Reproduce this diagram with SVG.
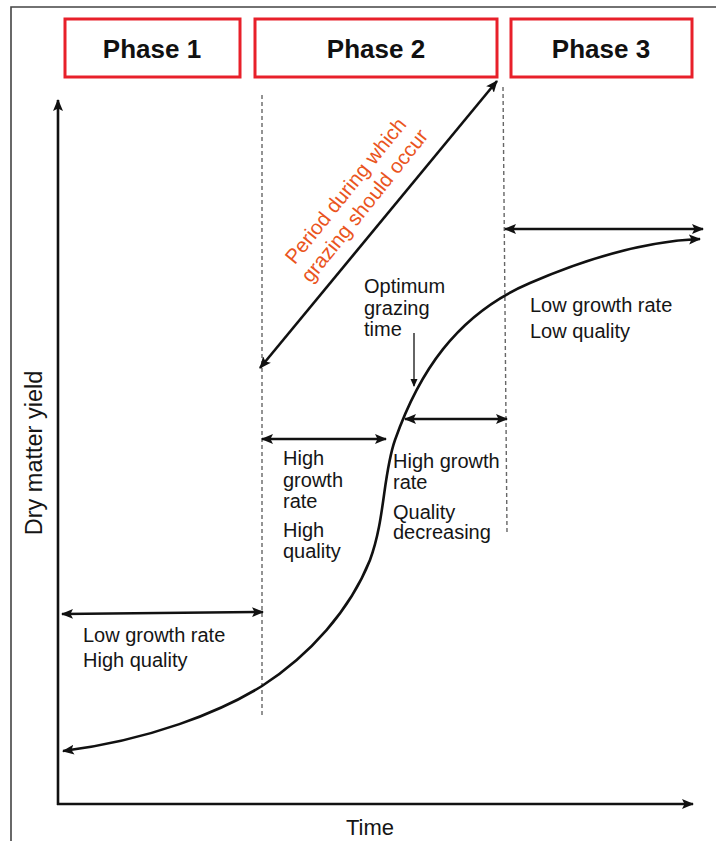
<svg xmlns="http://www.w3.org/2000/svg" width="716" height="841" viewBox="0 0 716 841">
<style>
.lbl{font-family:"Liberation Sans",Arial,sans-serif;font-size:20px;fill:#151515}
.ph{font-family:"Liberation Sans",Arial,sans-serif;font-size:26px;font-weight:bold;fill:#111;text-anchor:middle}
.box{fill:#fff;stroke:#e8202a;stroke-width:3}
.ln{fill:none;stroke:#111;stroke-width:2.6}
.dash{fill:none;stroke:#666;stroke-width:1.4;stroke-dasharray:4 3}
.org{font-family:"Liberation Sans",Arial,sans-serif;font-size:20.5px;fill:#ea5420;text-anchor:middle}
</style>
<defs>
<marker id="ah" markerUnits="userSpaceOnUse" markerWidth="14" markerHeight="12" refX="11" refY="5" orient="auto-start-reverse" viewBox="0 0 14 10">
<path d="M0,0 L12,5 L0,10 L2.5,5 z" fill="#111"/>
</marker>
<marker id="ahs" markerUnits="userSpaceOnUse" markerWidth="9" markerHeight="8" refX="7" refY="3.5" orient="auto" viewBox="0 0 9 7">
<path d="M0,0 L8,3.5 L0,7 z" fill="#111"/>
</marker>
</defs>
<rect width="716" height="841" fill="#fff"/>
<g id="frame">
<path d="M11,841 L11,7 L716,7" fill="none" stroke="#444" stroke-width="1.6"/>
</g>
<g id="phase1"><rect class="box" x="65" y="19" width="175" height="58"/><text class="ph" x="152" y="58">Phase 1</text></g>
<g id="phase2"><rect class="box" x="255" y="19" width="242" height="58"/><text class="ph" x="376" y="58">Phase 2</text></g>
<g id="phase3"><rect class="box" x="511" y="19" width="181" height="58"/><text class="ph" x="601" y="58">Phase 3</text></g>
<g id="axes">
<line class="ln" x1="58" y1="805" x2="58" y2="100" marker-end="url(#ah)"/>
<line class="ln" x1="57" y1="804" x2="693" y2="804" marker-end="url(#ah)"/>
<text class="lbl" font-size="23.5" text-anchor="middle" transform="translate(42,453) rotate(-90)" style="font-size:23.5px">Dry matter yield</text>
<text class="lbl" text-anchor="middle" x="370" y="835" style="font-size:22px">Time</text>
</g>
<g id="dividers">
<line class="dash" x1="262" y1="95" x2="262" y2="717"/>
<line class="dash" x1="503" y1="87" x2="507" y2="532"/>
</g>
<g id="curve">
<path class="ln" d="M700,239 C650,241 590,257 530,283 C455,315 418,375 395,440 C383,474 385,520 370,560 C350,610 310,655 262,686 C220,712 150,740 63,751" marker-start="url(#ah)" marker-end="url(#ah)"/>
</g>
<g id="connectors">
<line class="ln" x1="62" y1="614" x2="263" y2="612" marker-start="url(#ah)" marker-end="url(#ah)"/>
<line class="ln" x1="262" y1="439" x2="386" y2="439" marker-start="url(#ah)" marker-end="url(#ah)"/>
<line class="ln" x1="405" y1="419" x2="507" y2="419" marker-start="url(#ah)" marker-end="url(#ah)"/>
<line class="ln" x1="505" y1="229" x2="703" y2="229" marker-start="url(#ah)" marker-end="url(#ah)"/>
<line class="ln" x1="260" y1="368" x2="497" y2="81" marker-start="url(#ah)" marker-end="url(#ah)"/>
<line x1="414" y1="333" x2="414" y2="386" stroke="#111" stroke-width="1.3" marker-end="url(#ahs)"/>
</g>
<g id="label-period">
<text class="org" transform="translate(351,195) rotate(-51.3)">Period during which</text>
<text class="org" transform="translate(370,210) rotate(-51.3)">grazing should occur</text>
</g>
<g id="label-phase1">
<text class="lbl" x="83" y="642">Low growth rate</text>
<text class="lbl" x="83" y="667">High quality</text>
</g>
<g id="label-phase2a">
<text class="lbl" x="283" y="465">High</text>
<text class="lbl" x="283" y="487">growth</text>
<text class="lbl" x="283" y="508">rate</text>
<text class="lbl" x="283" y="537">High</text>
<text class="lbl" x="283" y="558">quality</text>
</g>
<g id="label-phase2b">
<text class="lbl" x="393" y="468">High growth</text>
<text class="lbl" x="393" y="489">rate</text>
<text class="lbl" x="393" y="519">Quality</text>
<text class="lbl" x="393" y="539">decreasing</text>
</g>
<g id="label-optimum">
<text class="lbl" x="364" y="293">Optimum</text>
<text class="lbl" x="364" y="315">grazing</text>
<text class="lbl" x="364" y="336">time</text>
</g>
<g id="label-phase3">
<text class="lbl" x="530" y="312">Low growth rate</text>
<text class="lbl" x="530" y="338">Low quality</text>
</g>
</svg>
